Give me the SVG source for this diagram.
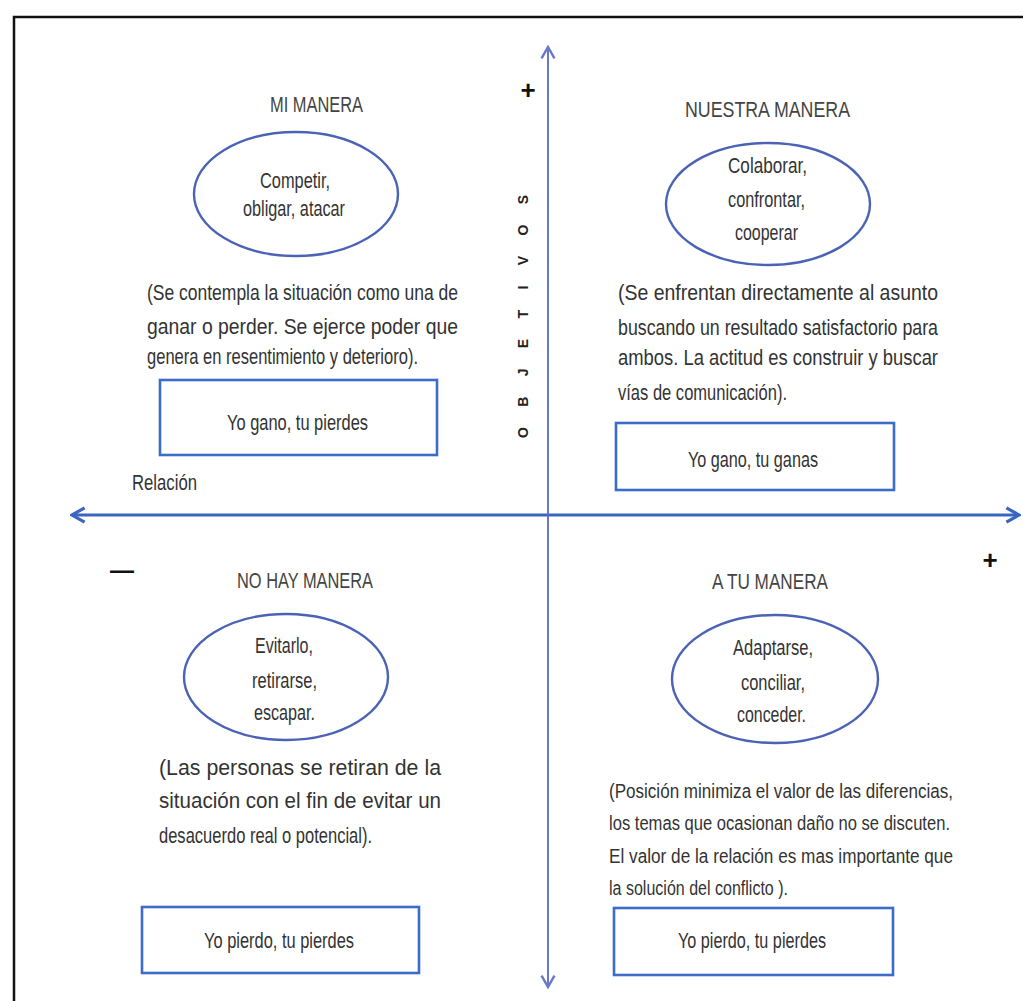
<svg xmlns="http://www.w3.org/2000/svg" width="1023" height="1001" viewBox="0 0 1023 1001">
<style>
  .t{font-family:"Liberation Sans Narrow","Liberation Sans",Arial,sans-serif;font-size:22px;fill:#333;}
  .s{font-size:20px;}
  .ttl{fill:#444;}
  .ell{fill:none;stroke:#4a63b5;stroke-width:2.4;}
  .box{fill:#fff;stroke:#3c6cc9;stroke-width:2.6;}
  .sym{font-family:"Liberation Sans",Arial,sans-serif;font-weight:bold;fill:#111;}
  .obj{font-family:"Liberation Sans",Arial,sans-serif;font-weight:bold;font-size:14px;fill:#222;}
</style>
<defs>
  <marker id="ahH" viewBox="0 0 20 20" refX="18" refY="10" markerWidth="6" markerHeight="6" markerUnits="strokeWidth" orient="auto-start-reverse">
    <path d="M4,2 L18,10 L4,18" fill="none" stroke="#3a66c0" stroke-width="3.5"/>
  </marker>
  <marker id="ahV" viewBox="0 0 20 20" refX="18" refY="10" markerWidth="9" markerHeight="9" markerUnits="strokeWidth" orient="auto-start-reverse">
    <path d="M4,2 L18,10 L4,18" fill="none" stroke="#6a78c8" stroke-width="3"/>
  </marker>
</defs>
<rect width="1023" height="1001" fill="#fff"/>
<g id="frame" stroke="#111" stroke-width="2.5" fill="none">
  <path d="M14,1001 L14,17 L1023,17"/>
</g>
<g id="connectors">
  <line x1="72" y1="515" x2="1019" y2="515" stroke="#3a66c0" stroke-width="3" marker-start="url(#ahH)" marker-end="url(#ahH)"/>
  <line x1="548" y1="47" x2="548" y2="987" stroke="#5a68c4" stroke-width="1.8" marker-start="url(#ahV)" marker-end="url(#ahV)"/>
</g>
<g id="axis-labels">
  <text class="t" x="132" y="490" textLength="65" lengthAdjust="spacingAndGlyphs">Relación</text>
  <text class="obj" transform="translate(528,438) rotate(-90)" x="0" y="0" textLength="243" lengthAdjust="spacing">OBJETIVOS</text>
  <text class="sym" x="528" y="99" font-size="26" text-anchor="middle">+</text>
  <text class="sym" x="990" y="569" font-size="26" text-anchor="middle">+</text>
  <text class="sym" x="122" y="578" font-size="24" text-anchor="middle">—</text>
</g>
<g id="mi-manera">
  <text class="t ttl" x="270" y="112" textLength="93" lengthAdjust="spacingAndGlyphs">MI MANERA</text>
  <ellipse class="ell" cx="296" cy="194" rx="102" ry="62"/>
  <text class="t" x="260" y="188" textLength="70" lengthAdjust="spacingAndGlyphs">Competir,</text>
  <text class="t" x="243" y="216" textLength="102" lengthAdjust="spacingAndGlyphs">obligar, atacar</text>
  <text class="t" x="147" y="300" textLength="311" lengthAdjust="spacingAndGlyphs">(Se contempla la situación como una de</text>
  <text class="t" x="147" y="334" textLength="311" lengthAdjust="spacingAndGlyphs">ganar o perder. Se ejerce poder  que</text>
  <text class="t" x="147" y="364" textLength="271" lengthAdjust="spacingAndGlyphs">genera en resentimiento y  deterioro).</text>
  <rect class="box" x="160" y="380" width="277" height="75"/>
  <text class="t" x="227" y="430" textLength="141" lengthAdjust="spacingAndGlyphs">Yo gano, tu pierdes</text>
</g>
<g id="nuestra-manera">
  <text class="t ttl" x="685" y="117" textLength="165" lengthAdjust="spacingAndGlyphs">NUESTRA MANERA</text>
  <ellipse class="ell" cx="768" cy="204" rx="102" ry="61"/>
  <text class="t" x="728" y="173" textLength="79" lengthAdjust="spacingAndGlyphs">Colaborar,</text>
  <text class="t" x="728" y="207" textLength="77" lengthAdjust="spacingAndGlyphs">confrontar,</text>
  <text class="t" x="735" y="240" textLength="63" lengthAdjust="spacingAndGlyphs">cooperar</text>
  <text class="t" x="618" y="300" textLength="320" lengthAdjust="spacingAndGlyphs">(Se  enfrentan  directamente  al  asunto</text>
  <text class="t" x="618" y="335" textLength="320" lengthAdjust="spacingAndGlyphs">buscando un resultado satisfactorio para</text>
  <text class="t" x="618" y="365" textLength="320" lengthAdjust="spacingAndGlyphs">ambos. La actitud es construir y buscar</text>
  <text class="t" x="618" y="400" textLength="169" lengthAdjust="spacingAndGlyphs">vías de comunicación).</text>
  <rect class="box" x="616" y="423" width="278" height="67"/>
  <text class="t" x="688" y="467" textLength="130" lengthAdjust="spacingAndGlyphs">Yo gano, tu ganas</text>
</g>
<g id="no-hay-manera">
  <text class="t ttl" x="237" y="588" textLength="136" lengthAdjust="spacingAndGlyphs">NO HAY MANERA</text>
  <ellipse class="ell" cx="286" cy="677" rx="102" ry="63"/>
  <text class="t" x="255" y="653" textLength="58" lengthAdjust="spacingAndGlyphs">Evitarlo,</text>
  <text class="t" x="252" y="688" textLength="65" lengthAdjust="spacingAndGlyphs">retirarse,</text>
  <text class="t" x="254" y="720" textLength="61" lengthAdjust="spacingAndGlyphs">escapar.</text>
  <text class="t" x="159" y="775" textLength="282" lengthAdjust="spacingAndGlyphs">(Las  personas  se  retiran  de  la</text>
  <text class="t" x="159" y="808" textLength="282" lengthAdjust="spacingAndGlyphs">situación  con  el  fin  de  evitar  un</text>
  <text class="t" x="159" y="843" textLength="213" lengthAdjust="spacingAndGlyphs">desacuerdo real o potencial).</text>
  <rect class="box" x="142" y="907" width="277" height="66"/>
  <text class="t" x="204" y="948" textLength="150" lengthAdjust="spacingAndGlyphs">Yo pierdo, tu pierdes</text>
</g>
<g id="a-tu-manera">
  <text class="t ttl" x="712" y="589" textLength="116" lengthAdjust="spacingAndGlyphs">A TU MANERA</text>
  <ellipse class="ell" cx="775" cy="679" rx="103" ry="64"/>
  <text class="t" x="733" y="655" textLength="80" lengthAdjust="spacingAndGlyphs">Adaptarse,</text>
  <text class="t" x="741" y="690" textLength="64" lengthAdjust="spacingAndGlyphs">conciliar,</text>
  <text class="t" x="737" y="722" textLength="69" lengthAdjust="spacingAndGlyphs">conceder.</text>
  <text class="t s" x="609" y="798" textLength="344" lengthAdjust="spacingAndGlyphs">(Posición minimiza el valor de las diferencias,</text>
  <text class="t s" x="609" y="830" textLength="341" lengthAdjust="spacingAndGlyphs">los temas que ocasionan daño no se discuten.</text>
  <text class="t s" x="609" y="863" textLength="344" lengthAdjust="spacingAndGlyphs">El valor de la relación es mas importante que</text>
  <text class="t s" x="609" y="895" textLength="179" lengthAdjust="spacingAndGlyphs">la solución del conflicto ).</text>
  <rect class="box" x="614" y="908" width="279" height="67"/>
  <text class="t" x="678" y="948" textLength="148" lengthAdjust="spacingAndGlyphs">Yo pierdo, tu pierdes</text>
</g>
</svg>
